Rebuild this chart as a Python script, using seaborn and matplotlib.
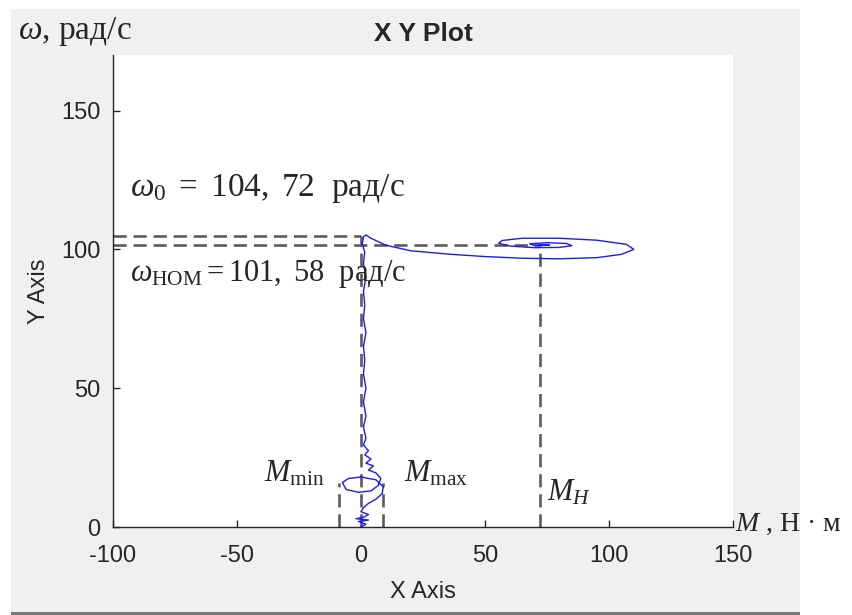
import matplotlib
matplotlib.use("Agg")
import matplotlib.pyplot as plt
import seaborn as sns
import pandas as pd
from matplotlib.patches import Rectangle

# speed-torque trajectory (M in N*m, omega in rad/s)
curve_m = [0, 2, -1, 3, -2, 1, 3, 0, 1, 3, 6, 8.5, 9, 6, 0, -5, -7.5, -6, -1, 4,
           7, 8, 6, 3, 5, 2, 4, 1.5, 3, 1, 2, 1, 2, 1, 2, 1, 1.5, 1, 2, 1,
           1.5, 1, 2, 1, 1.5, 0.5, 1, 2, 4, 10, 20, 35, 50, 65, 80, 95, 105, 110, 107, 95,
           80, 65, 57, 55.5, 60, 70, 80, 85, 83, 75, 68, 70, 76, 73, 72]
curve_w = [0, 1, 2, 2.5, 3, 3.5, 4.5, 5.5, 7, 8.5, 10, 12, 14.5, 17, 18, 17.5, 16, 13.5, 12.5, 13,
           15, 17.5, 19.5, 20.5, 22, 23, 24.5, 26, 27.5, 29.5, 32, 36, 40, 45, 50, 55, 60, 65, 70, 75,
           80, 85, 90, 95, 99, 102, 104.5, 105.2, 104, 101.5, 99.5, 98.3, 97.4, 96.8, 96.6, 97, 98.2, 100, 101.8, 103.3,
           104, 104, 103.2, 102.2, 101.2, 100.6, 100.7, 101.3, 102.1, 102.4, 102, 101.4, 101.5, 101.7, 101.6]

w0 = 104.72
w_nom = 101.58
m_nom = 72
m_min = -9
m_max = 9
m_mark_top = 16

# dashed guide lines: (x list, y list)
guides = [
    ([-100, 0], [w0, w0]),
    ([-100, m_nom], [w_nom, w_nom]),
    ([0, 0], [0, w0]),
    ([m_nom, m_nom], [0, w_nom]),
    ([m_min, m_min], [0, m_mark_top]),
    ([m_max, m_max], [0, m_mark_top]),
]

sns.set_style("ticks", {"xtick.direction": "in", "ytick.direction": "in"})
plt.rcParams['font.family'] = ['Liberation Sans', 'DejaVu Sans']
plt.rcParams['mathtext.fontset'] = 'custom'
plt.rcParams['mathtext.rm'] = 'Liberation Serif'
plt.rcParams['mathtext.it'] = 'Liberation Serif:italic'
plt.rcParams['axes.unicode_minus'] = False

fig = plt.figure(figsize=(8.52, 6.15), dpi=100)
fig.patch.set_facecolor('white')
# grey window panel behind the axes
fig.patches.append(Rectangle((11 / 852, 3 / 615), 789 / 852, 603 / 615, transform=fig.transFigure,
                             facecolor='#f0f0f0', edgecolor='none', zorder=-2))
fig.patches.append(Rectangle((11 / 852, 0), 789 / 852, 3 / 615, transform=fig.transFigure,
                             facecolor='#7a7a7a', edgecolor='none', zorder=-2))

ax = fig.add_axes([113 / 852, 88 / 615, 620 / 852, 472 / 615])
ax.set_facecolor('white')

for gx, gy in guides:
    ax.plot(gx, gy, color='#5c5c5c', lw=1.9, dashes=(5, 2.6), zorder=2)

df = pd.DataFrame({'M': curve_m, 'w': curve_w})
sns.lineplot(data=df, x='M', y='w', sort=False, estimator=None, color='#1a1aff', lw=1.0, ax=ax, zorder=3)

ax.set_xlim(-100, 150)
ax.set_ylim(0, 170)
ax.set_xticks([-100, -50, 0, 50, 100, 150])
ax.set_yticks([0, 50, 100, 150])
ax.tick_params(labelsize=17, length=5, width=1, colors='#262626')
ax.tick_params(axis='x', pad=13)
ax.tick_params(axis='y', pad=9)
for s in ['top', 'right']:
    ax.spines[s].set_visible(False)
for s in ['left', 'bottom']:
    ax.spines[s].set_color('#262626')
    ax.spines[s].set_linewidth(1.0)

ax.set_xlabel('X Axis', fontsize=17, color='#262626', labelpad=10)
ax.set_ylabel('Y Axis', fontsize=17, color='#262626', labelpad=8)
ax.set_title('X Y Plot', fontsize=19, fontweight='bold', pad=10)

serif = ['Liberation Serif', 'DejaVu Serif']
fig.text(18 / 852, 1 - 31 / 615, r'$\omega$, рад/с', fontsize=24, family=serif, va='center')
ax.text(-93, 122, r'$\omega_0\ =\ 104,\ 72$  рад/с', fontsize=24, family=serif, va='center', clip_on=False)
ax.text(-93, 91, r'$\omega_{\mathrm{НОМ}} = 101,\ 58$  рад/с', fontsize=22, family=serif, va='center',
        clip_on=False)
ax.text(-39, 19, r'$M_{\mathrm{min}}$', fontsize=22, family=serif, va='center')
ax.text(17.5, 19, r'$M_{\mathrm{max}}$', fontsize=22, family=serif, va='center')
ax.text(75, 12.5, r'$M_H$', fontsize=22, family=serif, va='center')
ax.text(151, 1, r'$M$ , Н · м', fontsize=20, family=serif, va='center', clip_on=False)

fig.savefig('out.png', dpi=100)
